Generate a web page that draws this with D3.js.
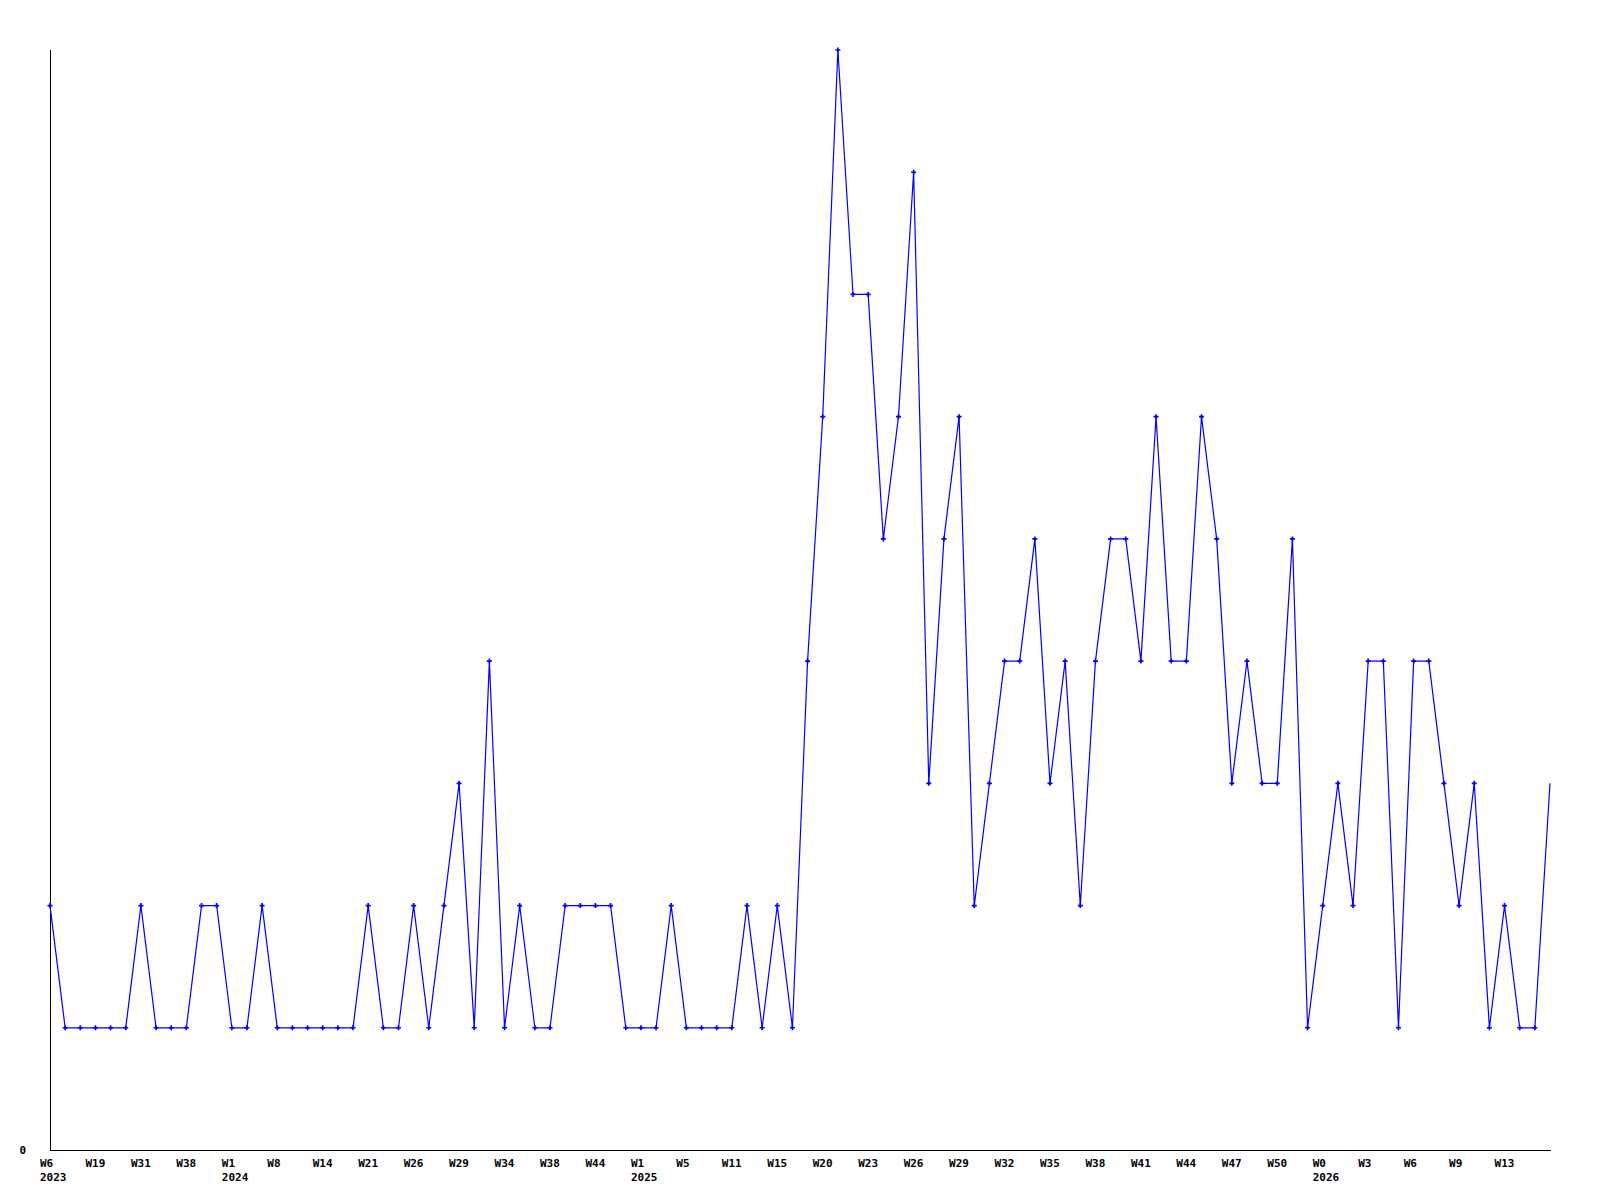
<!DOCTYPE html>
<html>
<head>
<meta charset="utf-8">
<script src="https://cdn.jsdelivr.net/npm/d3@7"></script>
<style>
  html, body { margin: 0; padding: 0; background: #fff; }
  svg { display: block; }
  text { font-family: "DejaVu Sans Mono", "Liberation Mono", monospace; font-weight: bold; font-size: 11px; fill: #000; }
</style>
</head>
<body>
<svg id="chart" width="1600" height="1200"></svg>
<script>
// Weekly counts (100 weeks)
const values = [
  2,1,1,1,1,1,2,1,1,1,
  2,2,1,1,2,1,1,1,1,1,
  1,2,1,1,2,1,2,3,1,4,
  1,2,1,1,2,2,2,2,1,1,
  1,2,1,1,1,1,2,1,2,1,
  4,6,9,7,7,5,6,8,3,5,
  6,2,3,4,4,5,3,4,2,4,
  5,5,4,6,4,4,6,5,3,4,
  3,3,5,1,2,3,2,4,4,1,
  4,4,3,2,3,1,2,1,1,3
];
// Week tick labels, one every 3 points
const weekLabels = ["W6","W19","W31","W38","W1","W8","W14","W21","W26","W29","W34","W38","W44",
  "W1","W5","W11","W15","W20","W23","W26","W29","W32","W35","W38","W41","W44","W47","W50",
  "W0","W3","W6","W9","W13"];
const weekTickEvery = 3;
// Year labels: point index -> year
const yearIdx = [0, 12, 39, 84];
const yearLabels = ["2023","2024","2025","2026"];
const yTicks = [0];

(function () {
const svg = d3.select("#chart");
const mLeft = 50, mRight = 1550, mTop = 50, mBottom = 1150;

const x = d3.scaleLinear().domain([0, values.length - 1]).range([mLeft, mRight]);
const y = d3.scaleLinear().domain([0, 9]).range([mBottom, mTop]);

// axes
svg.append("line").attr("x1", mLeft + 0.5).attr("x2", mLeft + 0.5)
  .attr("y1", mTop).attr("y2", mBottom + 0.5)
  .attr("stroke", "#000").attr("stroke-width", 1).attr("shape-rendering", "crispEdges");
svg.append("line").attr("x1", mLeft).attr("x2", mRight + 0.5)
  .attr("y1", mBottom + 0.5).attr("y2", mBottom + 0.5)
  .attr("stroke", "#000").attr("stroke-width", 1).attr("shape-rendering", "crispEdges");

// y tick labels
svg.selectAll("text.ytick").data(yTicks).join("text")
  .attr("class", "ytick")
  .attr("x", mLeft - 24).attr("y", d => y(d) + 4)
  .attr("text-anchor", "end")
  .text(d => d);

// x tick labels
svg.selectAll("text.wk").data(weekLabels).join("text")
  .attr("class", "wk")
  .attr("x", (d, i) => x(i * weekTickEvery) - 10)
  .attr("y", mBottom + 17)
  .text(d => d);
svg.selectAll("text.yr").data(yearLabels).join("text")
  .attr("class", "yr")
  .attr("x", (d, i) => x(yearIdx[i]) - 10)
  .attr("y", mBottom + 31)
  .text(d => d);

// line
const line = d3.line().x((d, i) => x(i)).y(d => y(d));
svg.append("path").datum(values)
  .attr("d", line)
  .attr("fill", "none")
  .attr("stroke", "#0000ff")
  .attr("stroke-width", 1.2);

// markers (all except the final point)
const sym = d3.symbol().type(d3.symbolCross).size(14);
svg.selectAll("path.mk").data(values.slice(0, -1)).join("path")
  .attr("class", "mk")
  .attr("transform", (d, i) => `translate(${x(i)},${y(d)})`)
  .attr("d", sym)
  .attr("fill", "#0000ff");
})();
</script>
</body>
</html>
